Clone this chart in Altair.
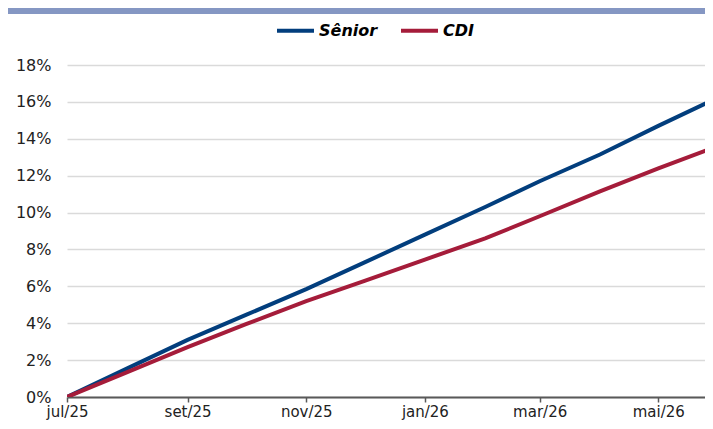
import altair as alt
import pandas as pd

# ---- data ----
dates = ["2025-07-01", "2025-08-01", "2025-09-01", "2025-10-01", "2025-11-01",
         "2025-12-01", "2026-01-01", "2026-02-01", "2026-03-01", "2026-04-01",
         "2026-05-01", "2026-05-29"]
senior = [0.0, 1.55, 3.1, 4.45, 5.85, 7.3, 8.8, 10.3, 11.7, 13.15, 14.7, 16.1]
cdi = [0.0, 1.35, 2.7, 3.95, 5.2, 6.3, 7.45, 8.6, 9.8, 11.15, 12.4, 13.5]

series_names = ["Sênior", "CDI"]
series_colors = ["#023e7d", "#a51c3a"]
y_ticks = [0, 2, 4, 6, 8, 10, 12, 14, 16, 18]
x_tick_dates = [(2025, 7), (2025, 9), (2025, 11), (2026, 1), (2026, 3), (2026, 5)]
month_abbr = ["jan", "fev", "mar", "abr", "mai", "jun", "jul", "ago", "set", "out", "nov", "dez"]

rows = []
for d, s, c in zip(dates, senior, cdi):
    rows.append({"date": d, "serie": series_names[0], "value": s})
    rows.append({"date": d, "serie": series_names[1], "value": c})
df = pd.DataFrame(rows)

font = "DejaVu Sans"
x_values = [alt.DateTime(year=y, month=m, date=1, utc=True) for y, m in x_tick_dates]
abbr_js = "[" + ",".join(f"'{m}'" for m in month_abbr) + "]"
x_label_expr = f"{abbr_js}[utcmonth(datum.value)] + '/' + utcFormat(datum.value, '%y')"

lines = alt.Chart(df).mark_line(strokeWidth=4, clip=True).encode(
    x=alt.X(
        "date:T",
        scale=alt.Scale(
            type="utc",
            domain=[alt.DateTime(year=2025, month=7, date=1, utc=True),
                    alt.DateTime(year=2026, month=5, date=25, utc=True)],
        ),
        axis=alt.Axis(
            values=x_values, labelExpr=x_label_expr, title=None, grid=False,
            domainColor="#595959", domainWidth=2, tickColor="#595959",
            tickWidth=1.5, tickSize=5, labelFont=font, labelFontSize=15,
            labelColor="#222222", labelPadding=2, labelFlush=False,
        ),
    ),
    y=alt.Y(
        "value:Q",
        scale=alt.Scale(domain=[0, 18], nice=False),
        axis=alt.Axis(
            values=y_ticks, labelExpr="datum.value + '%'", title=None,
            grid=True, gridColor="#dadada", gridWidth=1.5, domain=False,
            ticks=False, labelPadding=16, labelFont=font, labelFontSize=16,
            labelColor="#222222",
        ),
    ),
    color=alt.Color(
        "serie:N",
        scale=alt.Scale(domain=series_names, range=series_colors),
        legend=alt.Legend(
            title=None, orient="none", legendX=208, legendY=-55,
            direction="horizontal", symbolType="stroke", symbolSize=1369,
            symbolStrokeWidth=4, labelFont=font, labelFontSize=16,
            labelFontStyle="italic", labelFontWeight="bold",
            labelColor="#000000", labelOffset=3, columnPadding=15,
        ),
    ),
)

band = alt.Chart(pd.DataFrame({"k": [0]})).mark_rect(color="#8597c3").encode(
    x=alt.value(-59), x2=alt.value(638), y=alt.value(-57), y2=alt.value(-51)
)

chart = alt.layer(band, lines).properties(
    width=638, height=332,
    autosize=alt.AutoSizeParams(type="none"),
    padding={"left": 59, "top": 57, "right": 0, "bottom": 24},
    background="white",
).configure_view(stroke=None)

chart.save("out.html", embed_options={"renderer": "svg", "actions": False})
